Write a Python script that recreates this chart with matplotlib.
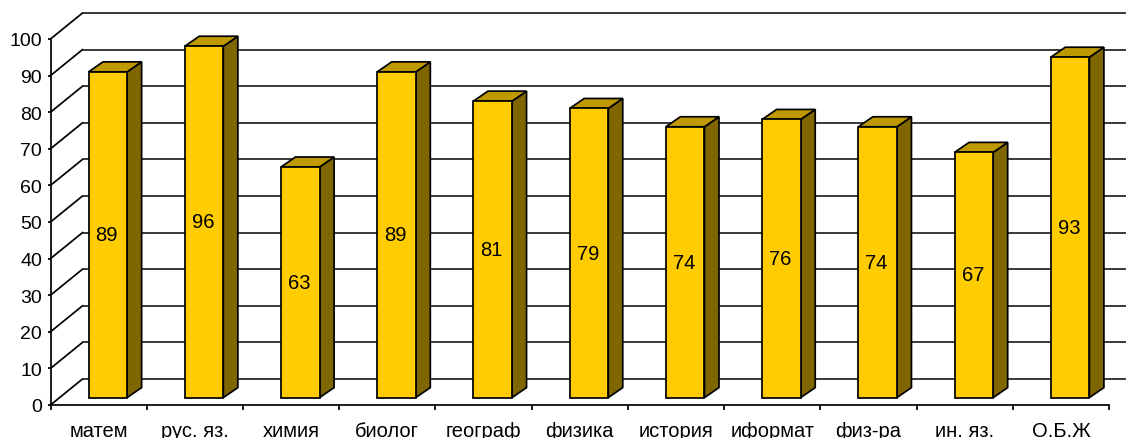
import matplotlib
matplotlib.use('Agg')
import matplotlib.pyplot as plt
from matplotlib.patches import Polygon

categories = ['матем', 'рус. яз.', 'химия', 'биолог', 'географ', 'физика',
              'история', 'иформат', 'физ-ра', 'ин. яз.', 'О.Б.Ж']
values = [89, 96, 63, 89, 81, 79, 74, 76, 74, 67, 93]
y_ticks = [0, 10, 20, 30, 40, 50, 60, 70, 80, 90, 100]

W, H = 1126, 439
front_c = '#FFCC00'
top_c = '#BF9900'
side_c = '#806600'
lw = 1.25

plt.rcParams['font.family'] = ['Liberation Sans', 'DejaVu Sans']

fig = plt.figure(figsize=(W / 100, H / 100), dpi=100, facecolor='white')
# axes box in pixels: x 50.5..1109, y 40..406
ax = fig.add_axes([50.5 / W, (H - 406) / H, 1058.5 / W, 366 / H])
ax.patch.set_visible(False)
ax.set_xlim(0, len(categories))
ax.set_ylim(0, 100)

for s in ['top', 'right']:
    ax.spines[s].set_visible(False)
for s in ['left', 'bottom']:
    ax.spines[s].set_linewidth(lw)

# oblique depth of the wall and of the bars, in data units
wall_dx = 32 / 96.2
wall_dy = 26 / 3.66
bar_dx = 14.5 / 96.2
bar_dy = 10 / 3.66
# bar front plane
base_x = 38.0 / 96.2
base_y = 7.4 / 3.66
bar_w = 38.6 / 96.2

# walls
for t in y_ticks:
    ax.plot([0, wall_dx], [t, t + wall_dy], color='black', lw=lw, clip_on=False, zorder=1)
    ax.plot([wall_dx, len(categories) + wall_dx], [t + wall_dy, t + wall_dy],
            color='#222222', lw=lw, clip_on=False, zorder=1)

# bars
for i, v in enumerate(values):
    x0 = i + base_x
    x1 = x0 + bar_w
    y0 = base_y
    y1 = base_y + v
    ax.add_patch(Polygon([(x1, y0), (x1 + bar_dx, y0 + bar_dy), (x1 + bar_dx, y1 + bar_dy), (x1, y1)],
                         facecolor=side_c, edgecolor='black', lw=lw, clip_on=False, zorder=3))
    ax.add_patch(Polygon([(x0, y1), (x0 + bar_dx, y1 + bar_dy), (x1 + bar_dx, y1 + bar_dy), (x1, y1)],
                         facecolor=top_c, edgecolor='black', lw=lw, clip_on=False, zorder=3))
    ax.add_patch(Polygon([(x0, y0), (x1, y0), (x1, y1), (x0, y1)],
                         facecolor=front_c, edgecolor='black', lw=lw, clip_on=False, zorder=4))
    ax.text((x0 + x1) / 2 - 0.01, y0 + v / 2, str(v), ha='center', va='center',
            fontsize=14.5, color='black', zorder=5)

ax.set_yticks(y_ticks)
ax.set_xticks(range(len(categories) + 1))
ax.set_xticklabels([])
ax.set_xticks([i + 0.5 for i in range(len(categories))], minor=True)
ax.set_xticklabels(categories, minor=True, fontsize=14.5)
for lab in ax.get_xticklabels(minor=True):
    lab.set_verticalalignment('baseline')
ax.tick_params(axis='x', which='major', length=3.5, width=lw)
ax.tick_params(axis='x', which='minor', length=0, pad=22)
ax.tick_params(axis='y', length=2.5, width=lw, labelsize=14, pad=3.5)

fig.savefig('out.png', dpi=100)
